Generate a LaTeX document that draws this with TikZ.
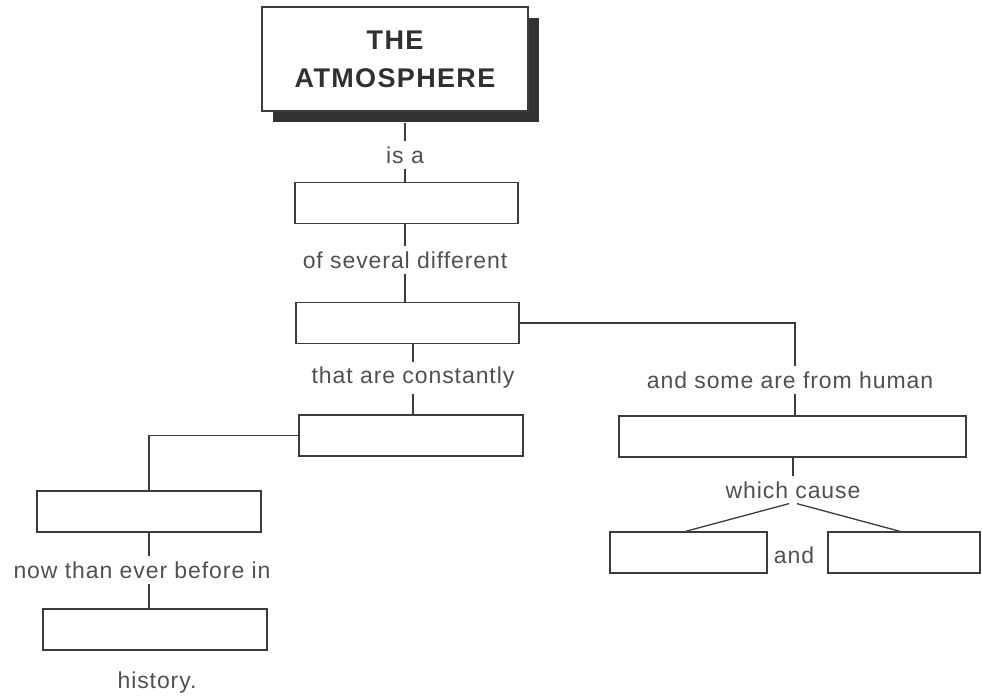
\documentclass[tikz,border=0pt]{standalone}
\usepackage{fontspec}
\setmainfont{Liberation Sans}
\newfontfamily\lblfont[LetterSpace=4]{Liberation Sans}
\newfontfamily\headfont[LetterSpace=5]{Liberation Sans}
\usetikzlibrary{shadows}
\definecolor{ink}{HTML}{3C3C3C}
\definecolor{labelink}{HTML}{505050}
\begin{document}
\begin{tikzpicture}[x=1pt,y=-1pt,
  box/.style={draw=ink, line width=1.3pt, fill=white, rectangle, inner sep=0pt,
    minimum height=41pt},
  titlebox/.style={draw=ink, line width=1.3pt, fill=white, rectangle, inner sep=0pt,
    minimum width=266pt, minimum height=104pt, align=center,
    drop shadow={shadow xshift=11pt, shadow yshift=-11pt, fill=ink!85!black, opacity=1},
    font=\headfont\fontsize{27}{38}\selectfont\bfseries, text=ink!80!black},
  lbl/.style={inner xsep=1.5pt, inner ysep=5pt, text=labelink,
    font=\lblfont\fontsize{23}{26}\selectfont},
  link/.style={draw=ink, line width=1.3pt}]
\useasboundingbox (0,0) rectangle (982,698);

\node[titlebox] (title) at (395,59) {THE\\ATMOSPHERE};

\node[box, minimum width=223pt] (b1) at (406.5,203) {};
\node[box, minimum width=223pt] (b2) at (407.5,323) {};
\node[box, minimum width=224pt] (b3) at (411,435.5) {};
\node[box, minimum width=224pt] (b4) at (149,511.5) {};
\node[box, minimum width=224pt] (b5) at (155,629.5) {};
\node[box, minimum width=347pt] (b6) at (792.5,436.5) {};
\node[box, minimum width=157pt] (b7) at (688.5,552.5) {};
\node[box, minimum width=152pt] (b8) at (904,552.5) {};

\node[lbl] (isa) at (405,155) {is a};
\node[lbl] (l1) at (405,260) {of several different};
\node[lbl] (l2) at (413,378) {that are constantly};
\node[lbl] (l3) at (790,380) {and some are from human};
\node[lbl] (l4) at (793,490) {which cause};
\node[lbl] (l5) at (794,555) {and};
\node[lbl] (l6) at (142,570) {now than ever before in};
\node[lbl] (l7) at (157,683) {history.};

% trunk
\draw[link] (title.south -| isa) ++(0,11) -- (isa.north);
\draw[link] (isa.south) -- (b1.north -| isa);
\draw[link] (b1.south -| l1) -- (l1.north);
\draw[link] (l1.south) -- (b2.north -| l1);
\draw[link] (b2.south -| l2) -- (l2.north);
\draw[link] (l2.south) -- (b3.north -| l2);

% left branch
\draw[link] (b3.west) -| (b4.north);
\draw[link] (b4.south) -- (b4.south |- l6.north);
\draw[link] (b4.south |- l6.south) -- (b4.south |- b5.north);

% right branch
\draw[link] (b2.east) -| ([xshift=5pt]l3.north);
\draw[link] ([xshift=5pt]l3.south) -- ([xshift=5pt]b6.north -| l3);
\draw[link] (b6.south -| l4) -- (l4.north);
\draw[link] ([xshift=-4pt]l4.south) -- ([xshift=-3pt]b7.north);
\draw[link] ([xshift=4pt]l4.south) -- ([xshift=-4pt]b8.north);
\end{tikzpicture}
\end{document}
